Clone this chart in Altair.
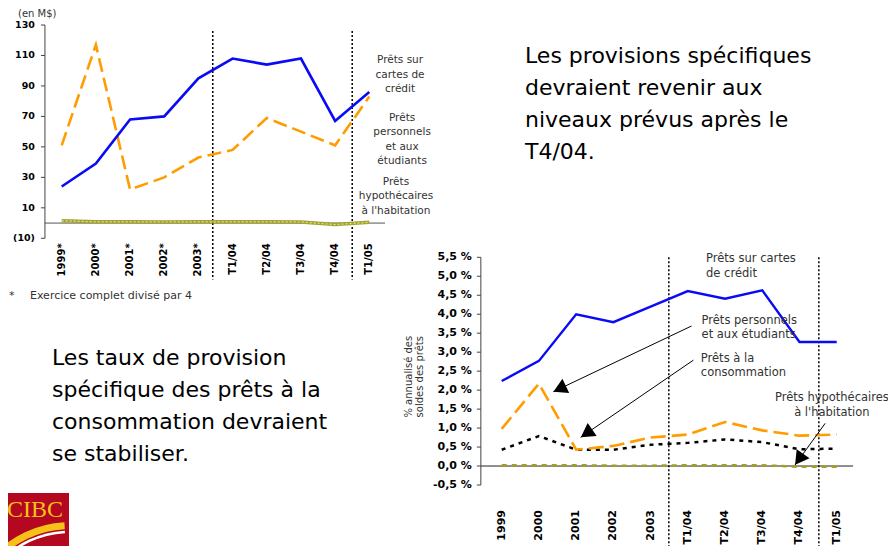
import altair as alt
import pandas as pd

# ---------------- Top chart: provisions spécifiques (en M$) ----------------
TOP_LABELS = ["1999*", "2000*", "2001*", "2002*", "2003*", "T1/04", "T2/04", "T3/04", "T4/04", "T1/05"]
TOP_CARDS = [24, 39, 68, 70, 95, 108, 104, 108, 67, 86]
TOP_PERSONAL = [51, 117, 22, 30, 43, 48, 69, 60, 51, 83]
TOP_MORTGAGE = [1.5, 0.8, 0.8, 0.7, 0.8, 0.8, 0.8, 0.7, -1.0, 0.5]
TOP_YTICKS = [-10, 10, 30, 50, 70, 90, 110, 130]
TOP_YTICK_TEXT = ["(10)", "10", "30", "50", "70", "90", "110", "130"]
TOP_SPLITS = [4.42, 8.5]
TOP_NOTE_TEXT = ["Prêts sur\ncartes de\ncrédit", "Prêts\npersonnels\net aux\nétudiants",
                 "Prêts\nhypothécaires\nà l'habitation"]
TOP_NOTE_X = [9.9, 9.96, 9.78]
TOP_NOTE_Y = [110.3, 72.3, 30.3]

# ---------------- Bottom chart: taux de provision (%) ----------------
BOT_LABELS = ["1999", "2000", "2001", "2002", "2003", "T1/04", "T2/04", "T3/04", "T4/04", "T1/05"]
BOT_CARDS = [2.24, 2.77, 4.00, 3.79, 4.20, 4.61, 4.41, 4.63, 3.27, 3.27]
BOT_PERSONAL = [0.98, 2.17, 0.43, 0.53, 0.75, 0.83, 1.16, 0.94, 0.80, 0.83]
BOT_CONSUMER = [0.43, 0.79, 0.43, 0.43, 0.56, 0.61, 0.70, 0.63, 0.44, 0.46]
BOT_MORTGAGE = [0.02, 0.02, 0.02, 0.01, 0.01, 0.02, 0.02, 0.02, -0.02, -0.02]
BOT_YTICKS = [-0.5, 0.0, 0.5, 1.0, 1.5, 2.0, 2.5, 3.0, 3.5, 4.0, 4.5, 5.0, 5.5]
BOT_YTICK_TEXT = ["-0,5 %", "0,0 %", "0,5 %", "1,0 %", "1,5 %", "2,0 %", "2,5 %", "3,0 %",
                  "3,5 %", "4,0 %", "4,5 %", "5,0 %", "5,5 %"]
BOT_SPLITS = [4.49, 8.52]
BOT_NOTE_TEXT = ["Prêts sur cartes\nde crédit", "Prêts personnels\net aux étudiants",
                 "Prêts à la\nconsommation", "Prêts hypothécaires\nà l'habitation"]
BOT_NOTE_X = [5.49, 5.37, 5.35, 8.87]
BOT_NOTE_Y = [5.61, 3.98, 2.98, 1.94]
BOT_NOTE_ALIGN = ["left", "left", "left", "center"]
ARROW_X0 = [5.10, 5.15, 8.69]
ARROW_Y0 = [3.69, 2.79, 1.125]
ARROW_X1 = [1.386, 2.12, 7.88]
ARROW_Y1 = [1.958, 0.756, 0.026]
HEAD_X = [1.556, 2.278, 7.99]
HEAD_Y = [2.037, 0.862, 0.177]
HEAD_ANGLE = [244.6, 235.5, 215.7]

FONT = "DejaVu Sans"
W, H = 880, 538

# axis placement (in data units of each chart)
TOP_AXIS_X, TOP_TICK_X = -0.49, -0.607
TOP_XLABEL_Y = -13.3
TOP_ZERO_X = [-0.49, 9.46]
BOT_AXIS_X, BOT_TICK_X = -0.56, -0.667
BOT_XLABEL_Y = -1.16
BOT_ZERO_X = [-0.56, 9.44]

# ---------------- scales ----------------
xs_top = alt.Scale(domain=[0, 9], range=[53.7, 361.3], nice=False, zero=False)
ys_top = alt.Scale(domain=[-10, 130], range=[230.3, 17], nice=False, zero=False)
xs_bot = alt.Scale(domain=[0, 9], range=[493.7, 828.7], nice=False, zero=False)
ys_bot = alt.Scale(domain=[-0.5, 5.5], range=[477, 249.3], nice=False, zero=False)


def X(f, s):
    return alt.X(f, scale=s, axis=None)


def Y(f, s):
    return alt.Y(f, scale=s, axis=None)


top_df = pd.DataFrame({"i": list(range(10)), "lab": TOP_LABELS, "cards": TOP_CARDS,
                       "personal": TOP_PERSONAL, "mortgage": TOP_MORTGAGE,
                       "ly": [TOP_XLABEL_Y] * 10})
bot_df = pd.DataFrame({"i": list(range(10)), "lab": BOT_LABELS, "cards": BOT_CARDS,
                       "personal": BOT_PERSONAL, "consumer": BOT_CONSUMER,
                       "mortgage": BOT_MORTGAGE, "ly": [BOT_XLABEL_Y] * 10})


def axis_layers(ticks, tick_text, ax, tx, xs, ys, lab_dx, fsize, domain_range):
    tdf = pd.DataFrame({"v": ticks, "t": tick_text, "ax": [ax] * len(ticks), "tx": [tx] * len(ticks)})
    ddf = pd.DataFrame({"ax": [ax], "y0": [domain_range[0]], "y1": [domain_range[1]]})
    dom = alt.Chart(ddf).mark_rule(color="#444", strokeWidth=1).encode(
        x=X("ax:Q", xs), y=Y("y0:Q", ys), y2="y1:Q")
    tk = alt.Chart(tdf).mark_rule(color="#444", strokeWidth=1).encode(
        x=X("tx:Q", xs), x2="ax:Q", y=Y("v:Q", ys))
    lab = alt.Chart(tdf).mark_text(align="right", baseline="middle", dx=lab_dx, font=FONT,
                                   fontSize=fsize, fontWeight="bold", color="black").encode(
        x=X("ax:Q", xs), y=Y("v:Q", ys), text="t:N")
    return [dom, tk, lab]


# ---------------- top chart layers ----------------
top_base = alt.Chart(top_df)
t_zero = alt.Chart(pd.DataFrame({"x0": [TOP_ZERO_X[0]], "x1": [TOP_ZERO_X[1]], "y": [0]})).mark_rule(
    color="#555", strokeWidth=1).encode(x=X("x0:Q", xs_top), x2="x1:Q", y=Y("y:Q", ys_top))
t_split = alt.Chart(pd.DataFrame({"x": TOP_SPLITS, "y0": [126] * 2, "y1": [-37] * 2})).mark_rule(
    color="black", strokeWidth=1.5, strokeDash=[2, 2]).encode(
    x=X("x:Q", xs_top), y=Y("y0:Q", ys_top), y2="y1:Q")
t_mort = top_base.mark_line(color="#a3a335", strokeWidth=3.5).encode(
    x=X("i:Q", xs_top), y=Y("mortgage:Q", ys_top))
t_mort2 = top_base.mark_line(color="#e2e27a", strokeWidth=1.2, strokeDash=[2, 2]).encode(
    x=X("i:Q", xs_top), y=Y("mortgage:Q", ys_top))
t_pers = top_base.mark_line(color="#ff9c00", strokeWidth=2.6, strokeDash=[14, 6]).encode(
    x=X("i:Q", xs_top), y=Y("personal:Q", ys_top))
t_cards = top_base.mark_line(color="#0a0af5", strokeWidth=2.6).encode(
    x=X("i:Q", xs_top), y=Y("cards:Q", ys_top))
t_xlab = top_base.mark_text(align="right", baseline="middle", angle=270, font=FONT, fontSize=10,
                            fontWeight="bold", color="black").encode(
    x=X("i:Q", xs_top), y=Y("ly:Q", ys_top), text="lab:N")
t_notes = alt.Chart(pd.DataFrame({"t": TOP_NOTE_TEXT, "x": TOP_NOTE_X, "y": TOP_NOTE_Y})).mark_text(
    align="center", baseline="top", lineBreak="\n", lineHeight=14.5, fontSize=10.5,
    font=FONT, color="#333").encode(x=X("x:Q", xs_top), y=Y("y:Q", ys_top), text="t:N")

top_chart = alt.layer(
    t_zero, t_split, t_mort, t_mort2, t_pers, t_cards, t_xlab, t_notes,
    *axis_layers(TOP_YTICKS, TOP_YTICK_TEXT, TOP_AXIS_X, TOP_TICK_X, xs_top, ys_top, -10, 9.5, [-10, 130])
)

# ---------------- bottom chart layers ----------------
bot_base = alt.Chart(bot_df)
b_zero = alt.Chart(pd.DataFrame({"x0": [BOT_ZERO_X[0]], "x1": [BOT_ZERO_X[1]], "y": [0]})).mark_rule(
    color="#222", strokeWidth=1).encode(x=X("x0:Q", xs_bot), x2="x1:Q", y=Y("y:Q", ys_bot))
b_split = alt.Chart(pd.DataFrame({"x": BOT_SPLITS, "y0": [5.5] * 2, "y1": [-2.4] * 2})).mark_rule(
    color="black", strokeWidth=1.5, strokeDash=[2, 2]).encode(
    x=X("x:Q", xs_bot), y=Y("y0:Q", ys_bot), y2="y1:Q")
b_mort = bot_base.mark_line(color="#a3a020", strokeWidth=2.5, strokeDash=[5, 5]).encode(
    x=X("i:Q", xs_bot), y=Y("mortgage:Q", ys_bot))
b_cons = bot_base.mark_line(color="black", strokeWidth=2.5, strokeDash=[4, 5]).encode(
    x=X("i:Q", xs_bot), y=Y("consumer:Q", ys_bot))
b_pers = bot_base.mark_line(color="#ff9c00", strokeWidth=2.6, strokeDash=[15, 6]).encode(
    x=X("i:Q", xs_bot), y=Y("personal:Q", ys_bot))
b_cards = bot_base.mark_line(color="#0a0af5", strokeWidth=2.4).encode(
    x=X("i:Q", xs_bot), y=Y("cards:Q", ys_bot))
b_xlab = bot_base.mark_text(align="right", baseline="middle", angle=270, font=FONT, fontSize=11,
                            fontWeight="bold", color="black").encode(
    x=X("i:Q", xs_bot), y=Y("ly:Q", ys_bot), text="lab:N")
notes_df = pd.DataFrame({"t": BOT_NOTE_TEXT, "x": BOT_NOTE_X, "y": BOT_NOTE_Y, "a": BOT_NOTE_ALIGN})
b_notes_l = alt.Chart(notes_df[notes_df.a == "left"]).mark_text(
    align="left", baseline="top", lineBreak="\n", lineHeight=14.5, fontSize=11.5,
    font=FONT, color="#333").encode(x=X("x:Q", xs_bot), y=Y("y:Q", ys_bot), text="t:N")
b_notes_c = alt.Chart(notes_df[notes_df.a == "center"]).mark_text(
    align="center", baseline="top", lineBreak="\n", lineHeight=14.5, fontSize=11.5,
    font=FONT, color="#333").encode(x=X("x:Q", xs_bot), y=Y("y:Q", ys_bot), text="t:N")
arrows_df = pd.DataFrame({"x0": ARROW_X0, "y0": ARROW_Y0, "x1": ARROW_X1, "y1": ARROW_Y1,
                          "hx": HEAD_X, "hy": HEAD_Y, "ang": HEAD_ANGLE})
b_arrow = alt.Chart(arrows_df).mark_rule(color="black", strokeWidth=1).encode(
    x=X("x0:Q", xs_bot), x2="x1:Q", y=Y("y0:Q", ys_bot), y2="y1:Q")
b_head = alt.Chart(arrows_df).mark_point(shape="triangle-up", filled=True, color="black",
                                         size=250, opacity=1).encode(
    x=X("hx:Q", xs_bot), y=Y("hy:Q", ys_bot), angle=alt.Angle("ang:Q", scale=None))

bot_chart = alt.layer(
    b_zero, b_split, b_mort, b_cons, b_pers, b_cards, b_xlab, b_notes_l, b_notes_c, b_arrow, b_head,
    *axis_layers(BOT_YTICKS, BOT_YTICK_TEXT, BOT_AXIS_X, BOT_TICK_X, xs_bot, ys_bot, -9, 11, [-0.5, 5.5])
)


# ---------------- free text and logo ----------------
def txt(s, x, y, size, **kw):
    return alt.Chart(pd.DataFrame({"t": [s]})).mark_text(
        font=FONT, fontSize=size, lineBreak="\n", **kw).encode(
        x=alt.value(x), y=alt.value(y), text="t:N")


para1 = txt("Les provisions spécifiques\ndevraient revenir aux\nniveaux prévus après le\nT4/04.",
            517, 55, 22, align="left", baseline="alphabetic", lineHeight=32, color="black")
para2 = txt("Les taux de provision\nspécifique des prêts à la\nconsommation devraient\nse stabiliser.",
            44, 357, 22, align="left", baseline="alphabetic", lineHeight=32, color="black")
unit = txt("(en M$)", 10, 1, 10, align="left", baseline="top", color="#333")
star = txt("*", 1, 291, 11, align="left", baseline="alphabetic", color="#333")
foot = txt("Exercice complet divisé par 4", 22, 291, 11, align="left", baseline="alphabetic", color="#333")
ytitle = txt("% annualisé des\nsoldes des prêts", 400.5, 368.7, 10, align="center",
             baseline="middle", angle=270, lineHeight=11, color="#333")

logo_bg = alt.Chart(pd.DataFrame({"a": [0]})).mark_rect(color="#b3081f").encode(
    x=alt.value(0), x2=alt.value(61), y=alt.value(485), y2=alt.value(538))
logo_swoosh = alt.Chart(pd.DataFrame({"a": [0]})).mark_arc(color="#f6c21a").encode(
    x=alt.value(62), y=alt.value(619), radius=alt.value(105), radius2=alt.value(98),
    theta=alt.value(5.45), theta2=alt.value(6.23))
logo_swoosh2 = alt.Chart(pd.DataFrame({"a": [0]})).mark_arc(color="#ffffff").encode(
    x=alt.value(62), y=alt.value(619), radius=alt.value(96.5), radius2=alt.value(94),
    theta=alt.value(5.45), theta2=alt.value(6.23))
logo_txt = alt.Chart(pd.DataFrame({"t": ["CIBC"]})).mark_text(
    font="Liberation Serif", fontSize=24, color="#f6c21a", align="center", baseline="alphabetic").encode(
    x=alt.value(27), y=alt.value(509), text="t:N")

chart = alt.layer(
    top_chart, bot_chart, para1, para2, unit, star, foot, ytitle,
    logo_bg, logo_swoosh, logo_swoosh2, logo_txt
).resolve_scale(x="independent", y="independent").properties(
    width=W, height=H, autosize=alt.AutoSizeParams(type="none"), padding=0,
    background="white"
).configure_view(stroke=None)

chart.save("out.html", embed_options={"renderer": "svg", "actions": False})
